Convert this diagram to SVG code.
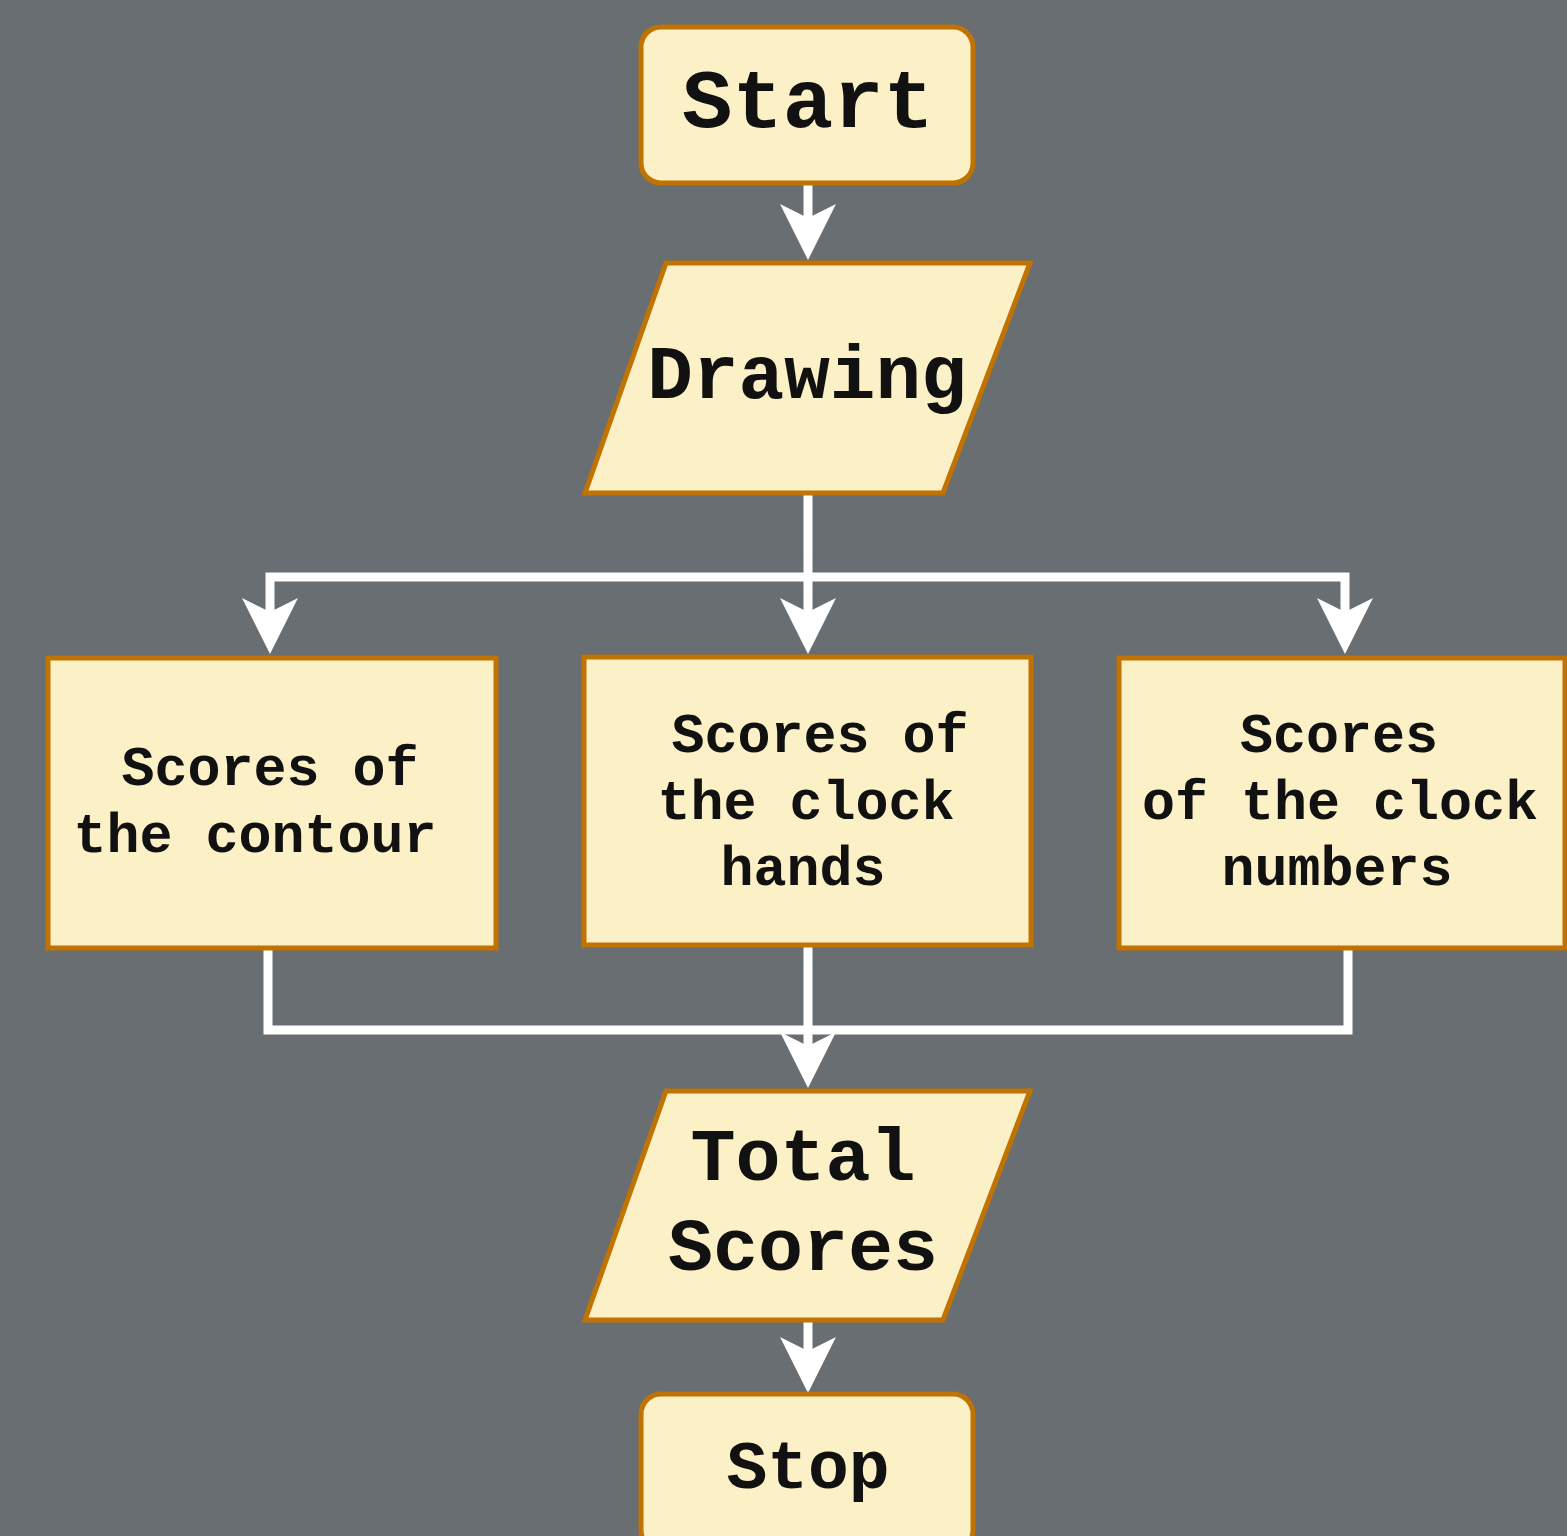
<svg xmlns="http://www.w3.org/2000/svg" width="1567" height="1536" viewBox="0 0 1567 1536">
<style>
.shape{fill:#fbf0c6;stroke:#c07303;stroke-width:5}
.t{font-family:"Liberation Mono","Courier New",monospace;font-weight:bold;fill:#111;text-anchor:middle}
.c{fill:none;stroke:#ffffff;stroke-width:9}
</style>
<defs>
<marker id="arr" markerUnits="userSpaceOnUse" markerWidth="60" markerHeight="60" viewBox="-58 -30 60 60" refX="-40" refY="0" orient="auto">
<path d="M0,0 L-56,-28 L-42,0 L-56,28 Z" fill="#ffffff"/>
</marker>
</defs>
<rect width="1567" height="1536" fill="#686e71"/>
<g id="connectors">
<path class="c" d="M808,185 V220" marker-end="url(#arr)"/>
<path class="c" d="M808,495 V614" marker-end="url(#arr)"/>
<path class="c" d="M808,577 H270 V614" marker-end="url(#arr)"/>
<path class="c" d="M808,577 H1345 V614" marker-end="url(#arr)"/>
<path class="c" d="M268,950 V1030 H808" />
<path class="c" d="M1348,950 V1030 H808" />
<path class="c" d="M808,947 V1048" marker-end="url(#arr)"/>
<path class="c" d="M808,1322 V1353" marker-end="url(#arr)"/>
</g>
<g id="start">
<rect class="shape" x="641" y="27" width="332" height="156" rx="20"/>
<text class="t" x="808" y="127" font-size="84">Start</text>
</g>
<g id="drawing">
<polygon class="shape" points="666,263 1030,263 943,493 585,493"/>
<text class="t" x="807" y="398" font-size="76">Drawing</text>
</g>
<g id="contour">
<rect class="shape" x="48" y="658" width="448" height="290"/>
<text class="t" font-size="55" x="270"><tspan x="270" y="785">Scores of</tspan><tspan x="255" y="852">the contour</tspan></text>
</g>
<g id="hands">
<rect class="shape" x="584" y="657" width="447" height="288"/>
<text class="t" font-size="55"><tspan x="820" y="752">Scores of</tspan><tspan x="806" y="819">the clock</tspan><tspan x="803" y="885">hands</tspan></text>
</g>
<g id="numbers">
<rect class="shape" x="1119" y="658" width="446" height="290"/>
<text class="t" font-size="55"><tspan x="1339" y="752">Scores</tspan><tspan x="1340" y="819">of the clock</tspan><tspan x="1337" y="885">numbers</tspan></text>
</g>
<g id="total">
<polygon class="shape" points="666,1091 1030,1091 943,1320 585,1320"/>
<text class="t" font-size="75"><tspan x="803" y="1180">Total</tspan><tspan x="803" y="1270">Scores</tspan></text>
</g>
<g id="stop">
<rect class="shape" x="641" y="1394" width="332" height="156" rx="20"/>
<text class="t" x="808" y="1488" font-size="68">Stop</text>
</g>
</svg>
